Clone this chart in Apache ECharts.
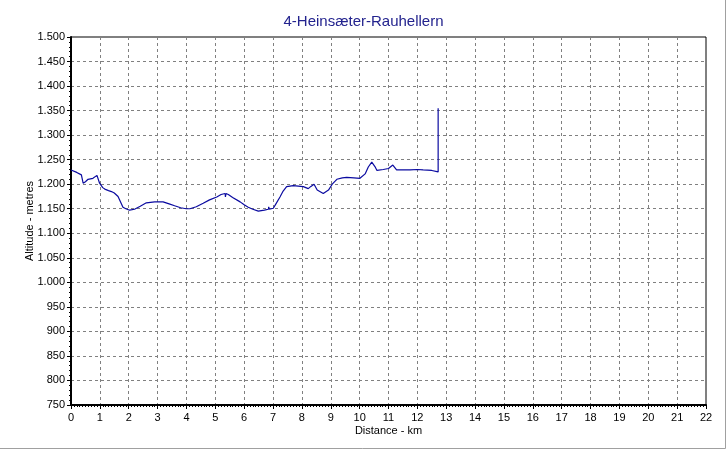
<!DOCTYPE html>
<html>
<head>
<meta charset="utf-8">
<script src="https://cdn.jsdelivr.net/npm/echarts@6/dist/echarts.min.js"></script>
<style>html,body{margin:0;padding:0;background:#fff;}#c{width:727px;height:452px;}</style>
</head>
<body>
<div id="c"></div>
<script>
const titleText = "4-Heinsæter-Rauhellern";
const xName = "Distance - km";
const yName = "Altitude - metres";
const distKm = [0,0.2,0.36,0.42,0.5,0.59,0.76,0.9,0.96,0.99,1.1,1.17,1.3,1.4,1.5,1.63,1.8,1.9,2.03,2.2,2.4,2.61,2.9,3.19,3.4,3.59,3.8,3.99,4.12,4.34,4.58,4.8,5.05,5.2,5.34,5.35,5.37,5.45,5.6,5.86,6.0,6.14,6.3,6.49,6.7,6.84,6.85,6.87,7.01,7.1,7.24,7.35,7.47,7.7,8.05,8.22,8.3,8.42,8.53,8.74,8.92,9.05,9.21,9.4,9.55,9.8,10.01,10.19,10.3,10.42,10.53,10.6,10.65,10.82,11.0,11.15,11.28,11.5,11.75,12.0,12.2,12.5,12.72,12.72];
const altM = [1229,1224,1219,1202,1205,1210,1212,1218,1222,1202,1193,1190,1187,1185,1182,1175,1153,1150,1147,1149,1155,1162,1164,1164,1160,1156,1152,1150,1150,1154,1161,1168,1174,1179,1181,1174,1181,1179,1173,1164,1158,1153,1149,1145,1147,1149,1154,1149,1151,1160,1174,1186,1195,1197,1195,1191,1195,1200,1188,1181,1188,1200,1210,1213,1214,1213,1212,1221,1235,1245,1236,1228,1230,1230,1232,1239,1229,1229,1229,1230,1229,1228,1225,1355];

const pts = distKm.map((d,i)=>[d, altM[i]]);
const font = "'Liberation Sans', Arial, sans-serif";
function fmt(v){ return v >= 1000 ? Math.floor(v/1000) + '.' + String(v%1000).padStart(3,'0') : String(v); }

const chart = echarts.init(document.getElementById('c'));
chart.setOption({
  animation:false,
  backgroundColor:'#fff',
  title:{text:titleText,left:'center',top:9,textStyle:{color:'#23238e',fontSize:15,fontWeight:'normal',fontFamily:font}},
  grid:{left:71,top:37,width:635,height:368,show:true,borderColor:'#000',borderWidth:1,backgroundColor:'transparent'},
  xAxis:{type:'value',min:0,max:22,interval:1,name:xName,nameLocation:'middle',nameGap:20,nameMoveOverlap:false,
    nameTextStyle:{color:'#000',fontSize:11,fontFamily:font},
    axisLine:{show:true,onZero:false,lineStyle:{color:'#000',width:2}},
    axisTick:{show:true,length:4,lineStyle:{color:'#000'}},
    minorTick:{show:true,splitNumber:10,length:2,lineStyle:{color:'#000'}},
    axisLabel:{color:'#000',fontSize:11,fontFamily:font,margin:7},
    splitLine:{show:true,lineStyle:{color:'#808080',type:[3,3],width:1}}},
  yAxis:{type:'value',min:750,max:1500,interval:50,name:yName,nameLocation:'middle',nameGap:36,nameMoveOverlap:false,
    nameTextStyle:{color:'#000',fontSize:11,fontFamily:font},
    axisLine:{show:true,onZero:false,lineStyle:{color:'#000',width:2}},
    axisTick:{show:true,length:4,lineStyle:{color:'#000'}},
    minorTick:{show:true,splitNumber:5,length:2,lineStyle:{color:'#000'}},
    axisLabel:{color:'#000',fontSize:11,fontFamily:font,margin:6,formatter:fmt},
    splitLine:{show:true,lineStyle:{color:'#808080',type:[3,3],width:1}}},
  series:[{type:'line',data:pts,showSymbol:false,symbol:'none',lineStyle:{color:'#0a0aa0',width:1.2},z:5}],
  graphic:[
    {type:'line',shape:{x1:725.5,y1:0,x2:725.5,y2:448.5},style:{stroke:'#a0a0a0',lineWidth:1}},
    {type:'line',shape:{x1:0,y1:448.5,x2:725.5,y2:448.5},style:{stroke:'#a0a0a0',lineWidth:1}}
  ]
});
</script>
</body>
</html>
